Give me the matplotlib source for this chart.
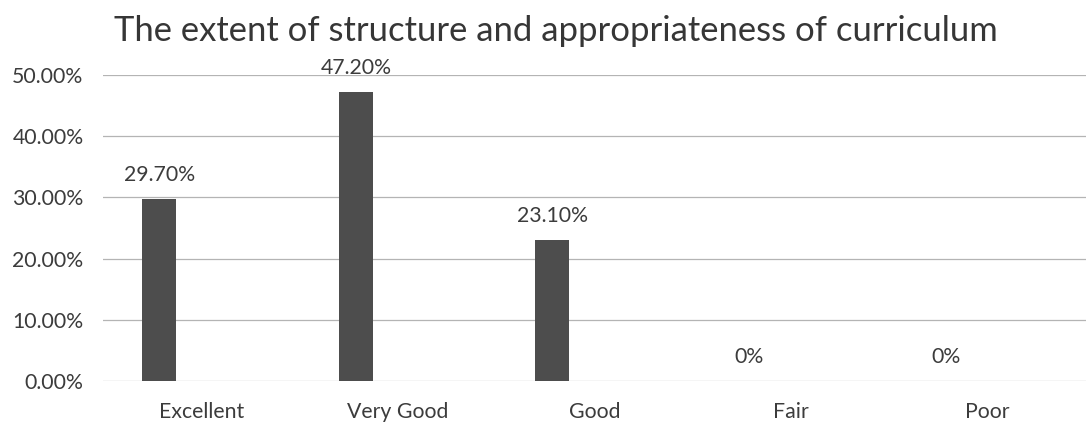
import matplotlib
matplotlib.use("Agg")
import matplotlib.pyplot as plt
import numpy as np

categories = ["Excellent", "Very Good", "Good", "Fair", "Poor"]
values = [29.7, 47.2, 23.1, 0.0, 0.0]
value_labels = ["29.70%", "47.20%", "23.10%", "0%", "0%"]
yticks = [0, 10, 20, 30, 40, 50]
ytick_labels = ["0.00%", "10.00%", "20.00%", "30.00%", "40.00%", "50.00%"]
title = "The extent of structure and appropriateness of curriculum"

plt.rcParams['font.family'] = ['Lato', 'DejaVu Sans']
txt = "#3c3c3c"
fs = 15.3

fig = plt.figure(figsize=(10.86, 4.28), dpi=100)
ax = fig.add_axes([103/1086, (428-381)/428, 1 - 103/1086, (381-75)/428])

x = np.arange(len(categories))
offset = -0.214
width = 0.173
ax.bar(x + offset, values, width=width, color="#4d4d4d", zorder=3)

for xi, v, lab in zip(x, values, value_labels):
    ax.annotate(lab, (xi + offset, v), xytext=(0, 10), textcoords="offset points",
                ha="center", va="bottom", fontsize=fs, color=txt)

ax.set_xlim(-0.5, 4.5)
ax.set_ylim(0, 50)
ax.set_yticks(yticks)
ax.set_yticklabels(ytick_labels, fontsize=fs, color=txt)
ax.set_xticks(x)
ax.set_xticklabels(categories, fontsize=fs, color=txt)
ax.tick_params(axis="both", length=0)
ax.tick_params(axis="y", pad=14)
ax.tick_params(axis="x", pad=15)
for s in ax.spines.values():
    s.set_visible(False)
ax.grid(axis="y", color="#b4b4b4", linewidth=0.9, zorder=0)
ax.set_axisbelow(True)

fig.text(556/1086, 1 - 31/428, title, ha="center", va="center", fontsize=24.9, color="#363636")

fig.savefig("out.png", dpi=100)
